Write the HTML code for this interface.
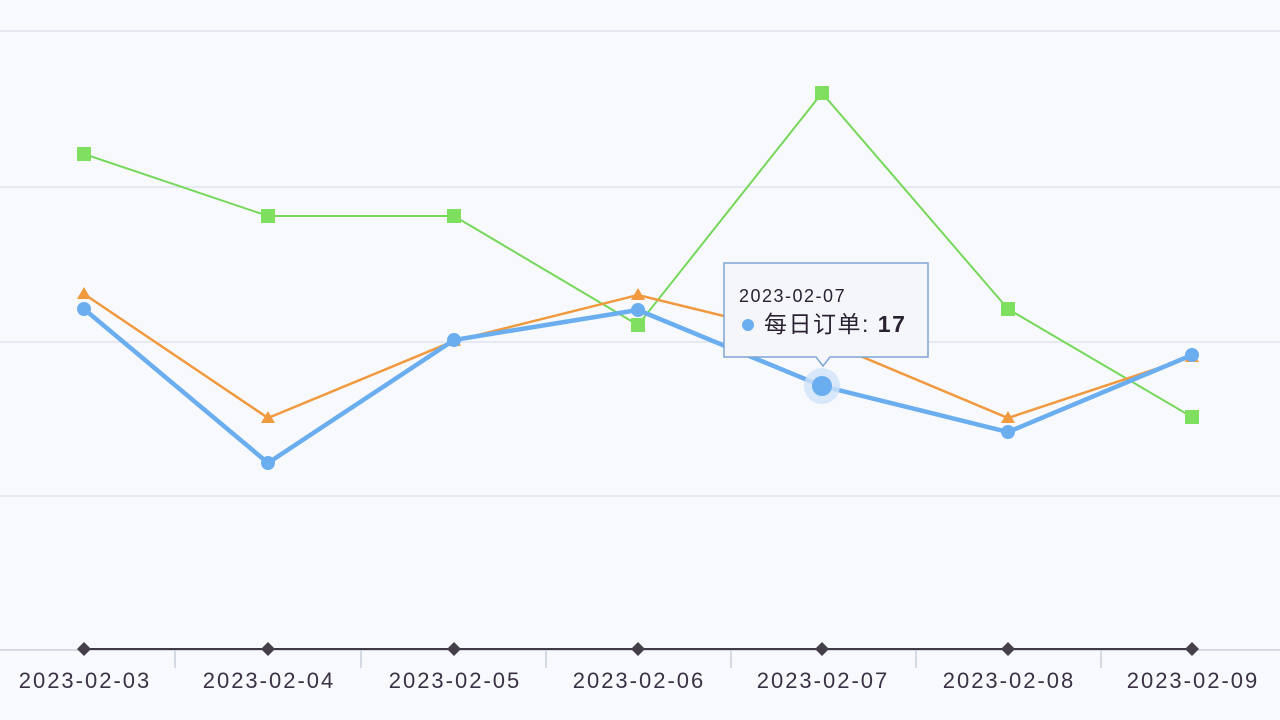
<!DOCTYPE html>
<html><head><meta charset="utf-8"><style>
body{margin:0;width:1280px;height:720px;background:#f8f9fd;overflow:hidden;font-family:"Liberation Sans","Noto Sans CJK SC",sans-serif}
</style></head><body>
<svg width="1280" height="720" xmlns="http://www.w3.org/2000/svg" style="position:absolute;left:0;top:0">
<rect width="1280" height="720" fill="#f8f9fd"/>
<g stroke="#dfe3ee" stroke-width="1.5">
<line x1="0" y1="31" x2="1280" y2="31"/><line x1="0" y1="187" x2="1280" y2="187"/>
<line x1="0" y1="342" x2="1280" y2="342"/><line x1="0" y1="496" x2="1280" y2="496"/>
<line x1="0" y1="650" x2="1280" y2="650" stroke="#c9cfdc"/>
</g>
<g stroke="#c9cfdc" stroke-width="1.5">
<line x1="175" y1="650" x2="175" y2="668"/><line x1="361" y1="650" x2="361" y2="668"/>
<line x1="546" y1="650" x2="546" y2="668"/><line x1="731" y1="650" x2="731" y2="668"/>
<line x1="916" y1="650" x2="916" y2="668"/><line x1="1101" y1="650" x2="1101" y2="668"/>
</g>
<line x1="84" y1="649" x2="1192" y2="649" stroke="#3f3a45" stroke-width="2"/>
<g fill="#453f4a">
<path d="M84 642l7 7-7 7-7-7z"/><path d="M268 642l7 7-7 7-7-7z"/><path d="M454 642l7 7-7 7-7-7z"/><path d="M638 642l7 7-7 7-7-7z"/><path d="M822 642l7 7-7 7-7-7z"/><path d="M1008 642l7 7-7 7-7-7z"/><path d="M1192 642l7 7-7 7-7-7z"/>
</g>
<polyline points="84,154 268,216 454,216 638,325 822,93 1008,309 1192,417" fill="none" stroke="#76d85a" stroke-width="2"/>
<g fill="#7ee05e">
<rect x="77" y="147" width="14" height="14"/><rect x="261" y="209" width="14" height="14"/><rect x="447" y="209" width="14" height="14"/><rect x="631" y="318" width="14" height="14"/><rect x="815" y="86" width="14" height="14"/><rect x="1001" y="302" width="14" height="14"/><rect x="1185" y="410" width="14" height="14"/>
</g>
<polyline points="84,294 268,418 454,341 638,295 822,340 1008,418 1192,357" fill="none" stroke="#f0993f" stroke-width="2.5"/>
<g fill="#f0993f">
<path d="M84 287l7 12h-14z"/><path d="M268 411l7 12h-14z"/><path d="M454 334l7 12h-14z"/><path d="M638 288l7 12h-14z"/><path d="M1008 411l7 12h-14z"/><path d="M1192 350l7 12h-14z"/>
</g>
<polyline points="84,309 268,463 454,340 638,310 822,386 1008,432 1192,355" fill="none" stroke="#6aaeef" stroke-width="4.5"/>
<g fill="#6aaeef">
<circle cx="84" cy="309" r="7"/><circle cx="268" cy="463" r="7"/><circle cx="454" cy="340" r="7"/><circle cx="638" cy="310" r="7"/><circle cx="1008" cy="432" r="7"/><circle cx="1192" cy="355" r="7"/>
<circle cx="822" cy="386" r="18" fill="#cfe2f7" opacity="0.8"/><circle cx="822" cy="386" r="10"/>
</g>
<g font-size="22" fill="#3a3145" text-anchor="middle" letter-spacing="2">
<text x="85" y="688">2023-02-03</text><text x="269" y="688">2023-02-04</text><text x="455" y="688">2023-02-05</text><text x="639" y="688">2023-02-06</text><text x="823" y="688">2023-02-07</text><text x="1009" y="688">2023-02-08</text><text x="1193" y="688">2023-02-09</text>
</g>
<path d="M724 263h204v94h-98l-7 9-7-9h-92z" fill="#f5f6f9" stroke="#7ea6d6" stroke-width="1.5"/>
<text x="739" y="302" font-size="18" fill="#2a2233" letter-spacing="1.5">2023-02-07</text>
<circle cx="748" cy="325" r="6" fill="#6aaeef"/>
<text x="764" y="332" font-size="23" fill="#2a2233" letter-spacing="1.5">每日订单: <tspan font-weight="bold">17</tspan></text>
</svg>
</body></html>
